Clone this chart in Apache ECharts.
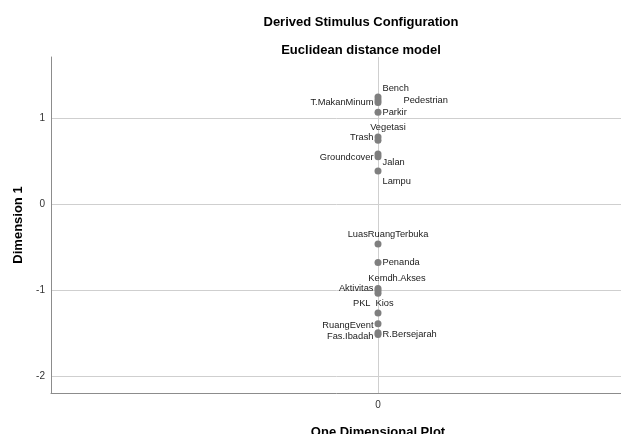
<!DOCTYPE html>
<html>
<head>
    <meta charset="utf-8">
    <title>Derived Stimulus Configuration</title>
    <script src="https://cdn.jsdelivr.net/npm/echarts@6/dist/echarts.min.js"></script>
    <style>
        html, body { margin: 0; padding: 0; background: #fff; }
        #container { width: 621px; height: 434px; }
    </style>
</head>
<body>
    <div id="container"></div>
    <script type="text/javascript">
        // stimulus names and their coordinate on dimension 1
        var stimuli = ['Bench', 'Pedestrian', 'T.MakanMinum', 'Parkir', 'Vegetasi', 'Trash',
            'Groundcover', 'Jalan', 'Lampu', 'LuasRuangTerbuka', 'Penanda', 'Kemdh.Akses',
            'Aktivitas', 'PKL', 'Kios', 'RuangEvent', 'Fas.Ibadah', 'R.Bersejarah'];
        var dim1 = [1.245, 1.21, 1.18, 1.067, 0.78, 0.74,
            0.58, 0.55, 0.384, -0.465, -0.68, -0.985,
            -1.01, -1.04, -1.27, -1.395, -1.52, -1.50];
        var yTicks = [-2, -1, 0, 1];
        var xTicks = [0];

        // where each label sits next to its point: [position, dx, dy]
        var labelPlace = {
            'Bench': ['right', 0, -9],
            'Pedestrian': ['right', 21, 0],
            'T.MakanMinum': ['left', 0, 0],
            'Parkir': ['right', 0, 0],
            'Vegetasi': ['top', 10, 0],
            'Trash': ['left', 0, -3],
            'Groundcover': ['left', 0, 3],
            'Jalan': ['right', 0, 6],
            'Lampu': ['right', 0, 10],
            'LuasRuangTerbuka': ['top', 10, 0],
            'Penanda': ['right', 0, 0],
            'Kemdh.Akses': ['top', 19, -1],
            'Aktivitas': ['left', 0, -2],
            'PKL': ['left', -3, 10],
            'Kios': ['right', -7, -10],
            'RuangEvent': ['left', 0, 2],
            'Fas.Ibadah': ['left', 0, 2],
            'R.Bersejarah': ['right', 0, 2]
        };

        var points = stimuli.map(function (name, i) {
            var p = labelPlace[name];
            return {
                name: name,
                value: [0, dim1[i]],
                label: { position: p[0], offset: [p[1], p[2]] }
            };
        });

        var chart = echarts.init(document.getElementById('container'));
        var font = 'Liberation Sans, Arial, sans-serif';

        chart.setOption({
            animation: false,
            title: [{
                text: 'Derived Stimulus Configuration',
                left: 356, top: 11, textAlign: 'center',
                textStyle: { fontFamily: font, fontSize: 13, fontWeight: 'bold', color: '#000' }
            }, {
                text: 'Euclidean distance model',
                left: 356, top: 39, textAlign: 'center',
                textStyle: { fontFamily: font, fontSize: 13, fontWeight: 'bold', color: '#000' }
            }],
            // plot runs past the right edge, as in the cropped original
            grid: { left: 51, top: 57, bottom: 41, right: -84, outerBoundsMode: 'none', containLabel: false },
            xAxis: {
                type: 'value', min: -1, max: 1,
                name: 'One Dimensional Plot', nameLocation: 'middle', nameGap: 33,
                nameTextStyle: { fontFamily: font, fontSize: 13, fontWeight: 'bold', color: '#000' },
                axisLine: { onZero: false, lineStyle: { color: '#8c8c8c', width: 1 } },
                axisTick: { show: false, customValues: xTicks },
                axisLabel: { customValues: xTicks, margin: 7, fontFamily: font, fontSize: 10, color: '#333' },
                splitLine: { show: true, lineStyle: { color: '#cfcfcf', width: 1 } }
            },
            yAxis: {
                type: 'value', min: -2.2, max: 1.71,
                name: 'Dimension 1', nameLocation: 'middle', nameGap: 23,
                nameTextStyle: { fontFamily: font, fontSize: 13, fontWeight: 'bold', color: '#000' },
                axisLine: { show: true, onZero: false, lineStyle: { color: '#8c8c8c', width: 1 } },
                axisTick: { show: false, customValues: yTicks },
                axisLabel: { customValues: yTicks, margin: 6, fontFamily: font, fontSize: 10, color: '#333' },
                splitLine: { show: true, lineStyle: { color: '#cfcfcf', width: 1 } }
            },
            series: [{
                type: 'scatter',
                symbolSize: 7,
                itemStyle: { color: '#7f7f7f', opacity: 1 },
                label: {
                    show: true,
                    formatter: '{b}',
                    distance: 1,
                    fontFamily: font, fontSize: 9.3, color: '#1a1a1a'
                },
                data: points
            }]
        });
    </script>
</body>
</html>
